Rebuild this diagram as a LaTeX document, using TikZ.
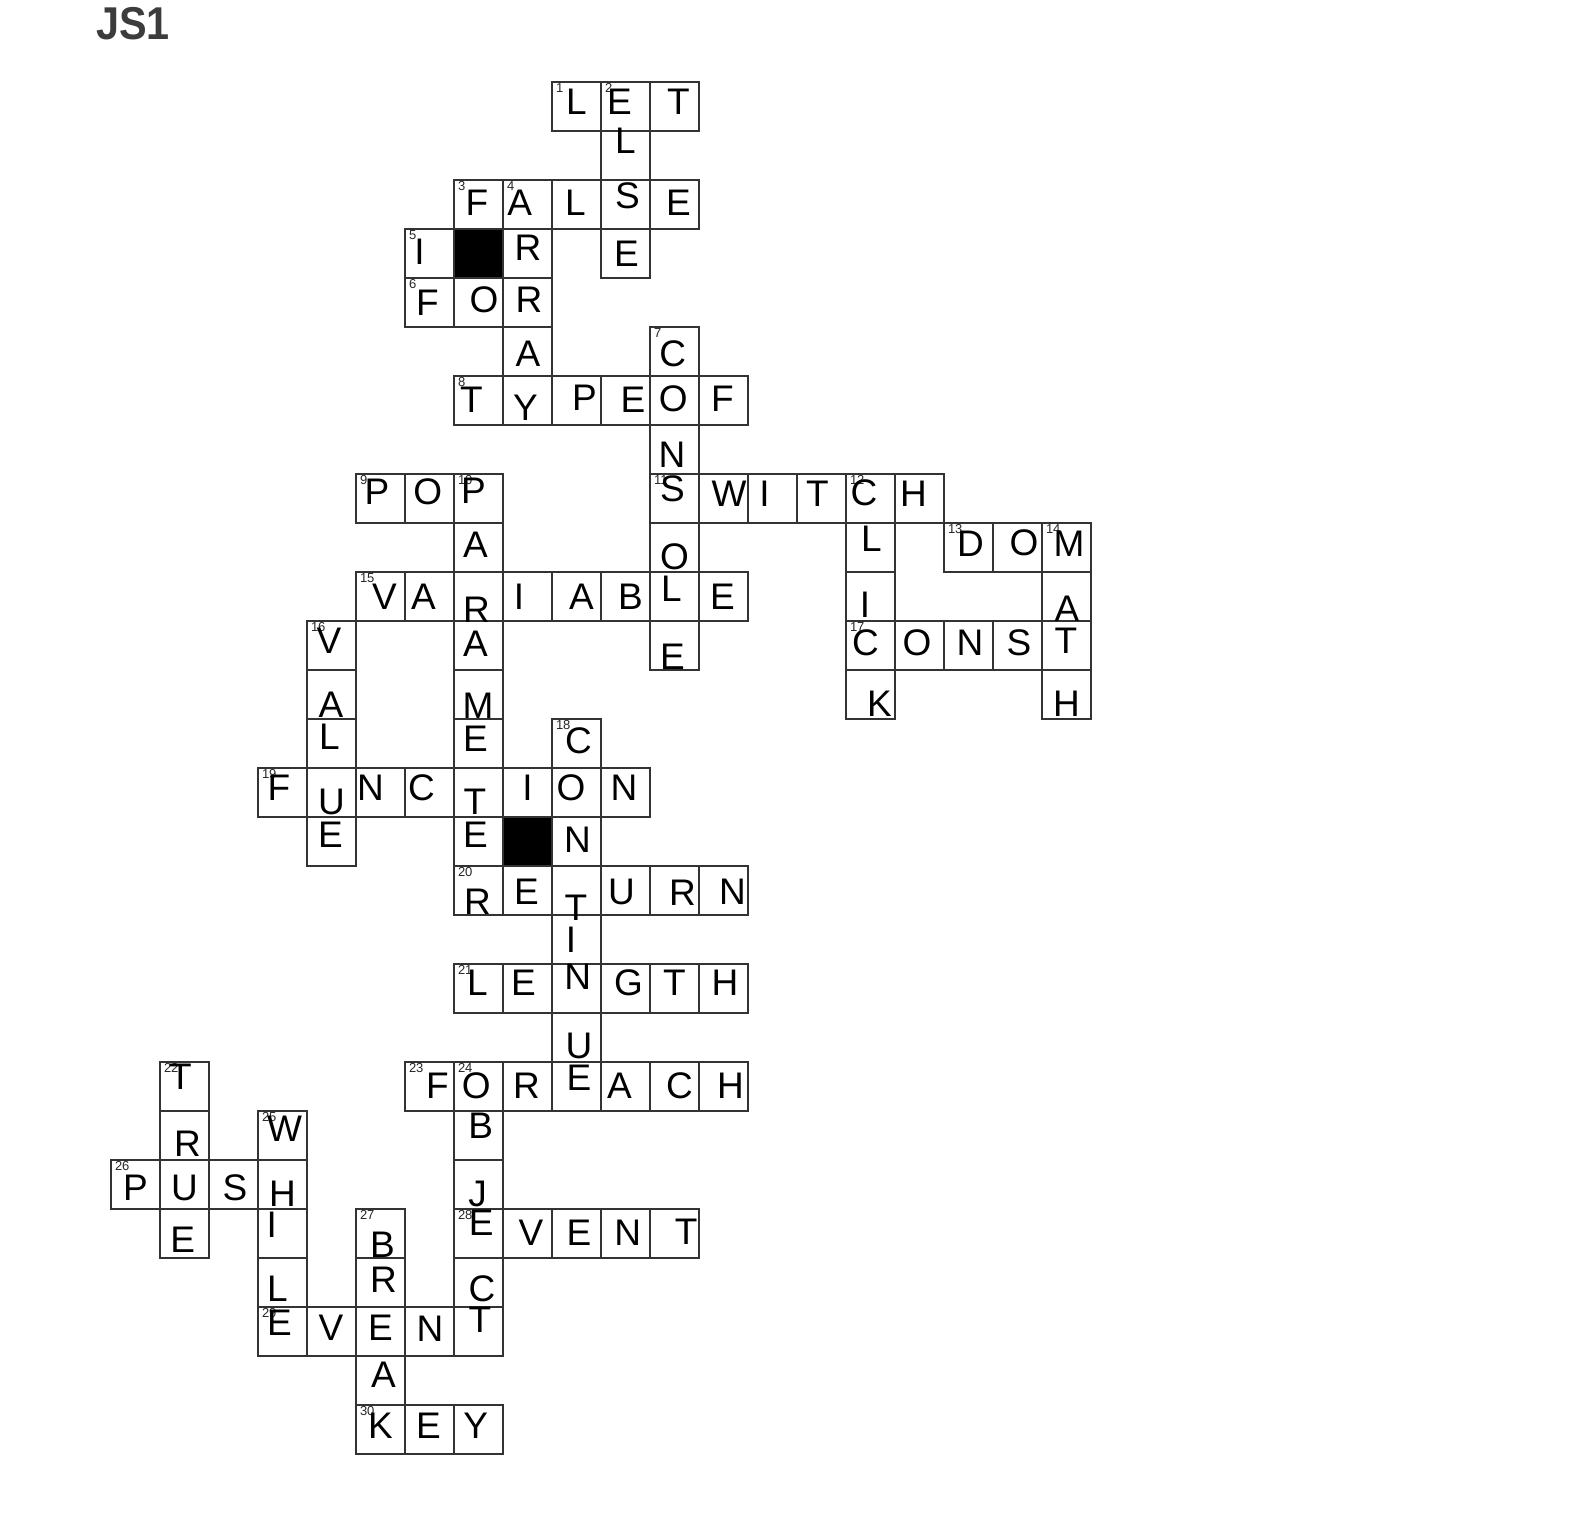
\documentclass[tikz,border=0pt]{standalone}
\usepackage{fontspec}
\setmainfont{Liberation Sans}
\definecolor{gridc}{HTML}{333333}
\definecolor{titlec}{HTML}{3C3C3C}
\tikzset{
  cellbox/.style={draw=gridc, line width=1.6pt},
  blackbox/.style={draw=gridc, fill=black, line width=1.6pt},
  letter/.style={inner sep=0pt, outer sep=0pt, font=\fontsize{37}{44}\selectfont},
  clue/.style={inner sep=0pt, outer sep=0pt, anchor=north west, font=\fontsize{13}{15}\selectfont, text=black!85},
  titletext/.style={inner sep=0pt, anchor=base west, text=titlec, font=\fontsize{46}{50}\selectfont\bfseries},
}
\newcommand{\gridcells}{%
0/9/L/0/-5, 0/10/E/-6/-5, 0/11/T/4/-5,
1/10/L/0/-14.7,
2/7/F/-1.5/-2, 2/8/A/-7.8/-2, 2/9/L/-1/-2, 2/10/S/2/-8.8, 2/11/E/4/-2,
3/6/I/-10/-1.5, 3/8/R/0.5/-5.8, 3/10/E/1/0,
4/6/F/-2/0, 4/7/O/5.5/-3, 4/8/R/1.5/-3,
5/8/A/0.5/2, 5/11/C/-1.7/2.3,
6/7/T/-7/-1, 6/8/Y/-2/7, 6/9/P/8/-3, 6/10/E/7.5/-1, 6/11/O/-1.3/-1.5, 6/12/F/-1/-1.5,
7/11/N/-2.5/5.5,
8/5/P/-3.5/-6.8, 8/6/O/-1.8/-6.8, 8/7/P/-5/-7.8, 8/11/S/-2/-10, 8/12/W/5.5/-5, 8/13/I/-8/-5, 8/14/T/-4/-5, 8/15/C/-6.5/-6, 8/16/H/-6/-5,
9/7/A/-3/-2.5, 9/11/O/0/9, 9/15/L/1/-8.5, 9/17/D/2/-3.5, 9/18/O/6.5/-5, 9/19/M/2.5/-3.5,
10/5/V/4/0, 10/6/A/-6/0, 10/7/R/-2/13.5, 10/8/I/-8.5/0, 10/9/A/5/0, 10/10/B/5/0, 10/11/L/-3/-8, 10/12/E/-1/0, 10/15/I/-5.5/8.5, 10/19/A/0.5/12,
11/4/V/-2.5/-5, 11/7/A/-3/-1.5, 11/11/E/-2/11, 11/15/C/-5/-3, 11/16/O/-2.5/-3, 11/17/N/1.5/-3, 11/18/S/1.5/-3, 11/19/T/-0.5/-5,
12/4/A/-0.5/10.5, 12/7/M/-0.5/11, 12/15/K/9/9, 12/19/H/0/9.5,
13/4/L/-2/-7, 13/7/E/-3/-5, 13/9/C/2/-3,
14/3/F/-3.5/-5, 14/4/U/0/9, 14/5/N/-10/-5, 14/6/C/-8/-5, 14/7/T/-3.5/9, 14/8/I/0/-5, 14/9/O/-5.5/-5, 14/10/N/-1.5/-5,
15/4/E/-1/-6.5, 15/7/E/-3/-6.5, 15/9/N/1/-1.5,
16/7/R/-1/11, 16/8/E/-1/1, 16/9/T/-0.5/17, 16/10/U/-4/1, 16/11/R/8/2, 16/12/N/9/1,
17/9/I/-5.5/0,
18/7/L/-1/-5.8, 18/8/E/-4/-5.8, 18/9/N/1.3/-12, 18/10/G/3/-5.8, 18/11/T/0/-5.8, 18/12/H/1.5/-5.8,
19/9/U/2.5/8.4,
20/1/T/-4/-10, 20/6/F/8/-1, 20/7/O/-2.3/-1, 20/8/R/-1/-1, 20/9/E/2.5/-9, 20/10/A/-6/-1, 20/11/C/5/-1, 20/12/H/7/-1,
21/1/R/3/8.7, 21/3/W/2/-6.3, 21/7/B/2.3/-9.4,
22/0/P/0/3.5, 22/1/U/0/3.5, 22/2/S/1.5/3.5, 22/3/H/0/9.5, 22/7/J/-1/9.5,
23/1/E/-1.7/6, 23/3/I/-10.7/-9, 23/5/B/2/11, 23/7/E/2.7/-11, 23/8/V/3.5/-1, 23/9/E/2.5/-1, 23/10/N/2.3/-1, 23/11/T/11.6/-2,
24/3/L/-5/6.7, 24/5/R/3/-3, 24/7/C/3.6/6.3,
25/3/E/-3/-9, 25/4/V/-0.6/-3.5, 25/5/E/0/-3.5, 25/6/N/0.6/-2.5, 25/7/T/1.5/-12,
26/5/A/3/-5.5,
27/5/K/0/-4, 27/6/E/-1/-4, 27/7/Y/-2.8/-4}
\newcommand{\cluenums}{%
1/0/9, 2/0/10, 3/2/7, 4/2/8, 5/3/6, 6/4/6, 7/5/11, 8/6/7, 9/8/5, 10/8/7,
11/8/11, 12/8/15, 13/9/17, 14/9/19, 15/10/5, 16/11/4, 17/11/15, 18/13/9, 19/14/3, 20/16/7,
21/18/7, 22/20/1, 23/20/6, 24/20/7, 25/21/3, 26/22/0, 27/23/5, 28/23/7, 29/25/3, 30/27/5}
\begin{document}
\begin{tikzpicture}[x=1pt, y=-1pt]
\useasboundingbox (0,0) rectangle (1584,1530);
\fill[white] (0,0) rectangle (1584,1530);
\node[titletext] (title) at (96,40) {\scalebox{0.9}[1]{JS1}};
% cells
\foreach \r/\c/\L/\dx/\dy [expand list] in \gridcells {
  \draw[cellbox] ({111+49*\c},{82+49*\r}) rectangle ++(49,49);
}
% black cells
\foreach \r/\c in {3/7, 15/8} {
  \draw[blackbox] ({111+49*\c},{82+49*\r}) rectangle ++(49,49);
}
% clue numbers
\foreach \n/\r/\c [expand list] in \cluenums {
  \node[clue] (n\n) at ({111+49*\c+4},{82+49*\r+1.3}) {\n};
}
% letters
\foreach \r/\c/\L/\dx/\dy [expand list] in \gridcells {
  \node[letter] (L-\r-\c) at ({111+49*\c+24.5+\dx},{82+49*\r+24.5+\dy}) {\L};
}
\end{tikzpicture}
\end{document}
